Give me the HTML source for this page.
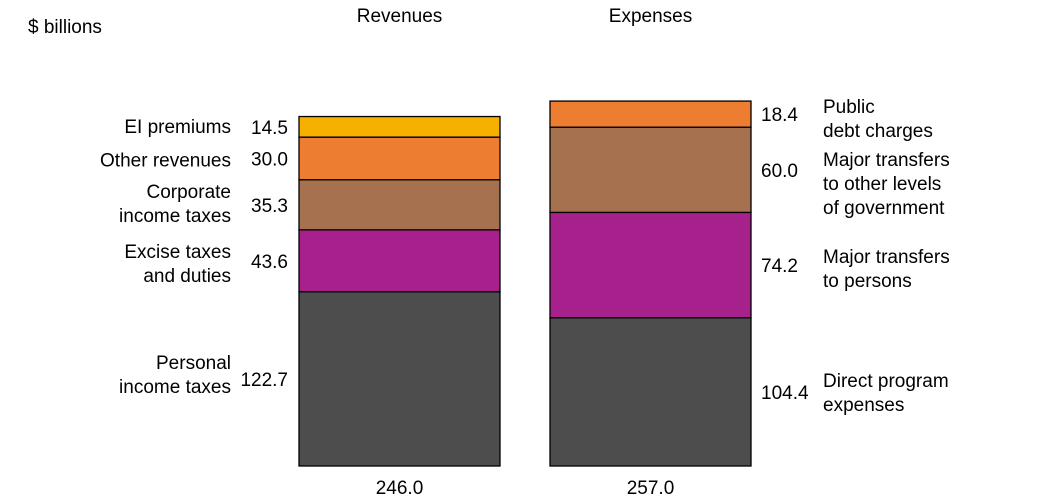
<!DOCTYPE html>
<html><head><meta charset="utf-8">
<style>
html,body{margin:0;padding:0;background:#fff;}
svg{display:block;font-family:"Liberation Sans",sans-serif;}
</style></head>
<body>
<svg id="chart" width="1045" height="503">
<text x="28" y="33" font-size="19" fill="#000">$ billions</text>
</svg>
<script>
const revCategories = [["Personal","income taxes"],["Excise taxes","and duties"],["Corporate","income taxes"],["Other revenues"],["EI premiums"]];
const revValues = [122.7, 43.6, 35.3, 30.0, 14.5];
const revTotal = "246.0";
const expCategories = [["Direct program","expenses"],["Major transfers","to persons"],["Major transfers","to other levels","of government"],["Public","debt charges"]];
const expValues = [104.4, 74.2, 60.0, 18.4];
const expTotal = "257.0";
const revColors = ["#4d4d4d","#a6218c","#a5714f","#ed7d31","#f5b000"];
const expColors = ["#4d4d4d","#a6218c","#a5714f","#ed7d31"];
const revLabelShift = [-10, -3, -7, 8, 6];
const expLabelShift = [-5, -2, -4, -1];

const svg = document.getElementById('chart');
const NS = 'http://www.w3.org/2000/svg';
const baseY = 466, scale = 1.42;
const yPos = v => baseY - v * scale;

function mk(tag, attrs){const e=document.createElementNS(NS,tag);for(const k in attrs)e.setAttribute(k,attrs[k]);svg.appendChild(e);return e;}

function drawStack(x, w, values, colors, cats, shifts, title, total, side, prefix){
  let t = mk('text',{x:x+w/2,y:22,'font-size':19,'text-anchor':'middle'});
  t.textContent = title;
  
  
  let cum = 0;
  values.forEach((v,i)=>{
    const y0 = yPos(cum), y1 = yPos(cum+v);
    const r = mk('rect',{x:x,y:y1,width:w,height:y0-y1,fill:colors[i],stroke:'#000','stroke-width':1.3});
    
    
    const cy = (y0+y1)/2;
    const vt = mk('text',{'font-size':19,'text-anchor':side==='left'?'end':'start',x:side==='left'?x-11:x+w+10,y:cy+7});
    vt.textContent = v.toFixed(1);
    
    
    const lines = cats[i];
    const lx = side==='left'?x-68:x+w+72;
    const lt = mk('text',{'font-size':19,'text-anchor':side==='left'?'end':'start',x:lx});
    
    
    lines.forEach((s,j)=>{
      const ts=document.createElementNS(NS,'tspan');
      ts.setAttribute('x', lx);
      ts.setAttribute('y', cy+shifts[i]+j*24);
      ts.textContent=s; lt.appendChild(ts);
    });
    cum += v;
  });
  const tt = mk('text',{x:x+w/2,y:494,'font-size':19,'text-anchor':'middle'});
  tt.textContent = total;
  
  
}
drawStack(299, 201, revValues, revColors, revCategories, revLabelShift, "Revenues", revTotal, 'left', 'revenues');
drawStack(550, 201, expValues, expColors, expCategories, expLabelShift, "Expenses", expTotal, 'right', 'expenses');
</script>
</body></html>
